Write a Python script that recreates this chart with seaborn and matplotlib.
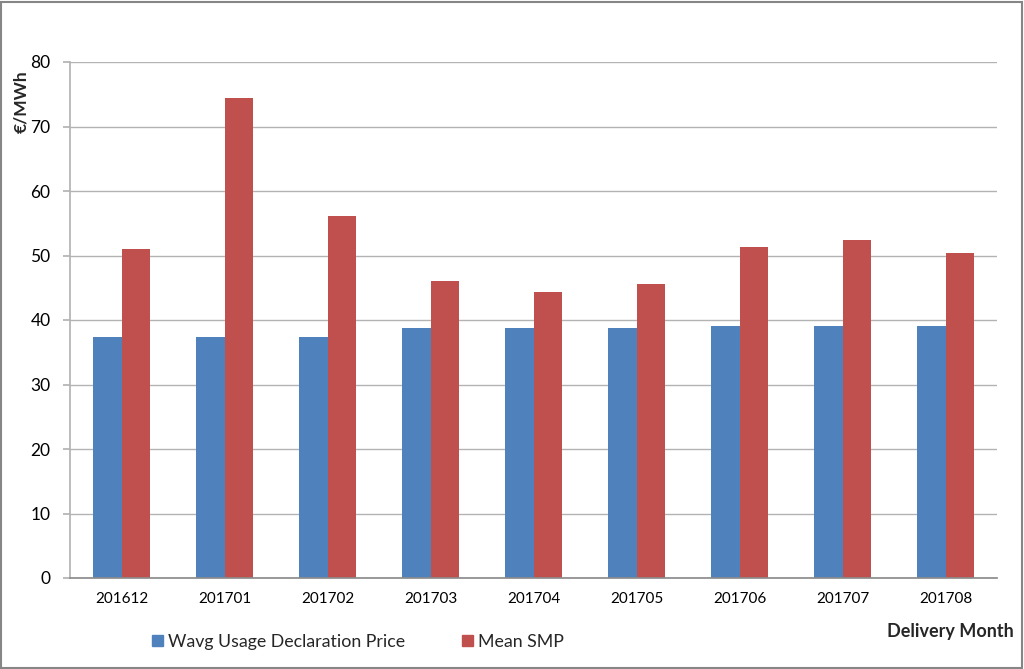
import matplotlib
matplotlib.use("Agg")
import matplotlib.pyplot as plt
import seaborn as sns
import pandas as pd
from matplotlib.patches import Rectangle

months = ["201612", "201701", "201702", "201703", "201704", "201705", "201706", "201707", "201708"]
wavg_price = [37.3, 37.3, 37.3, 38.8, 38.8, 38.8, 39.0, 39.1, 39.0]
mean_smp = [51.0, 74.4, 56.1, 46.1, 44.4, 45.6, 51.3, 52.4, 50.4]
series_names = ["Wavg Usage Declaration Price", "Mean SMP"]
yticks = [0, 10, 20, 30, 40, 50, 60, 70, 80]

df = pd.DataFrame({
    "month": months * 2,
    "value": wavg_price + mean_smp,
    "series": [series_names[0]] * len(months) + [series_names[1]] * len(months),
})

sns.set_theme(style="white")
plt.rcParams["font.family"] = ["Lato", "DejaVu Sans"]

fig = plt.figure(figsize=(10.24, 6.69), dpi=100)
ax = fig.add_axes([70 / 1024, 91 / 669, 927 / 1024, 516 / 669])

palette = {series_names[0]: "#4F81BD", series_names[1]: "#C0504D"}
sns.barplot(data=df, x="month", y="value", hue="series", palette=palette,
            width=0.56, gap=0, ax=ax, saturation=1, legend=False,
            edgecolor="none", linewidth=0)

ax.set_ylim(0, 80)
ax.set_xlim(-0.5, len(months) - 0.5)
ax.set_yticks(yticks)
ax.yaxis.grid(True, color="#B3B3B3", linewidth=1.0)
ax.set_axisbelow(True)
ax.set_xlabel("")
ax.set_ylabel("")
for s in ["top", "right"]:
    ax.spines[s].set_visible(False)
ax.spines["left"].set_color("#B3B3B3")
ax.spines["bottom"].set_color("#8C8C8C")
ax.tick_params(axis="y", which="major", length=5, color="#B3B3B3", labelsize=12.5,
               labelcolor="black", pad=9, left=True)
ax.tick_params(axis="x", which="major", length=0, labelsize=11, labelcolor="black", pad=10)

fig.text(21 / 1024, 1 - 102 / 669, "€/MWh", rotation=90, fontsize=12.5,
         fontweight="bold", ha="center", va="center")
fig.text(1014 / 1024, 1 - 632 / 669, "Delivery Month", fontsize=13,
         fontweight="bold", ha="right", va="center")

handles = [Rectangle((0, 0), 1, 1, color=palette[n]) for n in series_names]
fig.legend(handles, series_names, loc="center", bbox_to_anchor=(358 / 1024, 1 - 642 / 669),
           ncol=2, frameon=False, fontsize=12.8, handlelength=0.6, handleheight=0.6,
           handletextpad=0.3, columnspacing=3.2)

fig.patches.append(Rectangle((0.001, 0.0015), 0.997, 0.996, transform=fig.transFigure,
                             fill=False, edgecolor="#868686", linewidth=1.5))

fig.savefig("out.png", dpi=100)
